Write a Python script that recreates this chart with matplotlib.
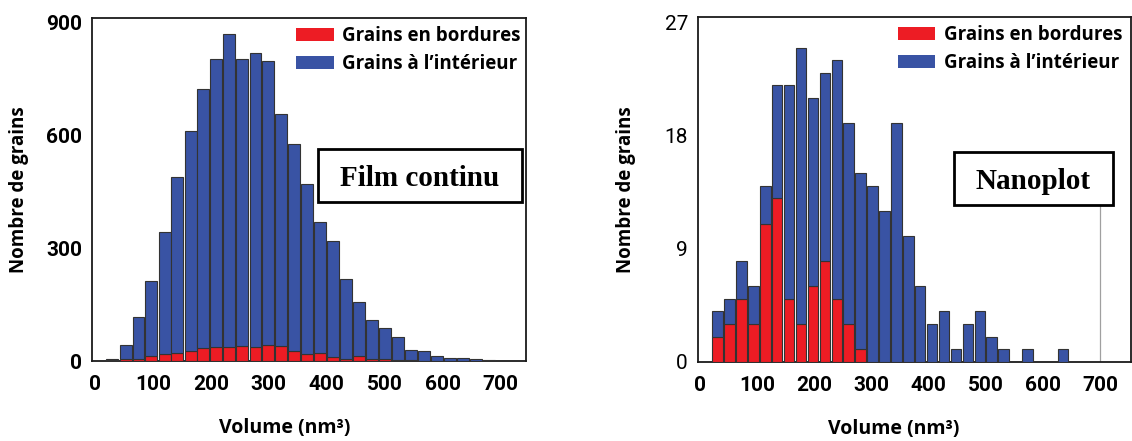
import numpy as np
import matplotlib.pyplot as plt
from matplotlib.patches import Patch, Rectangle

# Volume bins (nm3) - bin centres
volume_film = [30, 53, 75, 97, 120, 142, 165, 187, 209, 232, 254, 277, 299, 321, 344,
               366, 389, 411, 433, 456, 478, 501, 523, 545, 568, 590, 613, 635, 657, 680]
volume_nano = [31, 52, 73, 94, 115, 135, 156, 177, 198, 219, 240, 260, 281, 302, 323,
               344, 365, 385, 406, 427, 448, 469, 490, 510, 531, 552, 573, 594, 615, 635]

# Film continu: total grains and grains on the border
total_film = [5, 43, 117, 214, 342, 490, 612, 724, 804, 870, 804, 820, 799, 656, 577,
              470, 370, 318, 219, 158, 109, 88, 65, 29, 26, 13, 9, 7, 5, 3]
bord_film = [3, 5, 5, 12, 18, 20, 27, 34, 36, 36, 40, 38, 42, 39, 27,
             19, 20, 11, 5, 12, 5, 5, 3, 2, 1, 1, 0, 0, 0, 0]

# Nanoplot
total_nano = [4, 5, 8, 6, 14, 22, 22, 25, 21, 23, 24, 19, 15, 14, 12,
              19, 10, 6, 3, 4, 1, 3, 4, 2, 1, 0, 1, 0, 0, 1]
bord_nano = [2, 3, 5, 3, 11, 13, 5, 3, 6, 8, 5, 3, 1, 0, 0,
             0, 0, 0, 0, 0, 0, 0, 0, 0, 0, 0, 0, 0, 0, 0]

x_ticks = [0, 100, 200, 300, 400, 500, 600, 700]
legend_labels = ['Grains en bordures', 'Grains à l\u2019intérieur']

red = '#ed1c24'
blue = '#3953a4'
edge = '#333333'
tick_font = ['Liberation Sans Narrow', 'Roboto', 'DejaVu Sans']
sans = ['Open Sans', 'DejaVu Sans']

fig = plt.figure(figsize=(11.32, 4.41), dpi=100)
left = fig.add_axes([0.0813, 0.1814, 0.3834, 0.7785])
right = fig.add_axes([0.6163, 0.1798, 0.3828, 0.7823])


def draw_panel(ax, vol, total, bord, width, ymax, yticks, xlim, tick_weight, name, box, leg_x):
    total = np.array(total)
    bord = np.array(bord)
    inner = total - bord
    ax.bar(vol, bord, width=width, color=red, edgecolor=edge, linewidth=0.8, zorder=3)
    ax.bar(vol, inner, bottom=bord, width=width, color=blue, edgecolor=edge, linewidth=0.8, zorder=3)
    ax.set_xlim(*xlim)
    ax.set_ylim(0, ymax)
    ax.set_xticks(x_ticks)
    ax.set_yticks(yticks)
    ax.tick_params(length=0, labelsize=15)
    ax.tick_params(axis='x', pad=10)
    ax.tick_params(axis='y', pad=7)
    for lab in ax.get_xticklabels():
        lab.set_family(tick_font)
        lab.set_fontweight('bold')
    for lab in ax.get_yticklabels():
        lab.set_family(tick_font)
        lab.set_fontweight(tick_weight)
    for s in ax.spines.values():
        s.set_linewidth(1.3)
        s.set_color('#1a1a1a')

    ax.set_ylabel('Nombre de grains', fontsize=13.5, fontweight='bold', family=sans, va='center')
    ax.set_xlabel('Volume (nm³)', fontsize=14, fontweight='bold', family=sans, va='center')

    handles = [Patch(facecolor=red, edgecolor='none'), Patch(facecolor=blue, edgecolor='none')]
    ax.legend(handles, legend_labels, loc='upper left', bbox_to_anchor=(leg_x, 0.975),
              frameon=False, borderpad=0, borderaxespad=0, handlelength=2.0,
              handleheight=0.7, handletextpad=0.45, labelspacing=0.42,
              prop={'family': sans, 'weight': 'bold', 'size': 13.5})

    # framed sample name
    ax.add_patch(Rectangle((box[0], box[1]), box[2] - box[0], box[3] - box[1],
                           transform=ax.transAxes, facecolor='white', edgecolor='black',
                           linewidth=2, zorder=5))
    ax.text((box[0] + box[2]) / 2, (box[1] + box[3]) / 2 - 0.01, name, transform=ax.transAxes,
            ha='center', va='center', fontsize=21, fontweight='bold',
            family=['Liberation Serif', 'DejaVu Serif'], zorder=6)


draw_panel(left, volume_film, total_film, bord_film, 20.6, 913, [0, 300, 600, 900],
           (-5.2, 744), 'bold', 'Film continu', (0.5207, 0.4632, 0.9908, 0.6175), 0.47)
left.xaxis.set_label_coords(0.445, -0.195)
left.yaxis.set_label_coords(-0.168, 0.5)

draw_panel(right, volume_nano, total_nano, bord_nano, 18.5, 27.47, [0, 9, 18, 27],
           (-4, 754), 'normal', 'Nanoplot', (0.5915, 0.4542, 0.9585, 0.6078), 0.462)
right.axvline(700, ymin=0, ymax=0.4542, color='#a0a0a0', linewidth=0.9, zorder=2)
right.xaxis.set_label_coords(0.452, -0.195)
right.yaxis.set_label_coords(-0.166, 0.5)

fig.savefig('out.png', dpi=100)
